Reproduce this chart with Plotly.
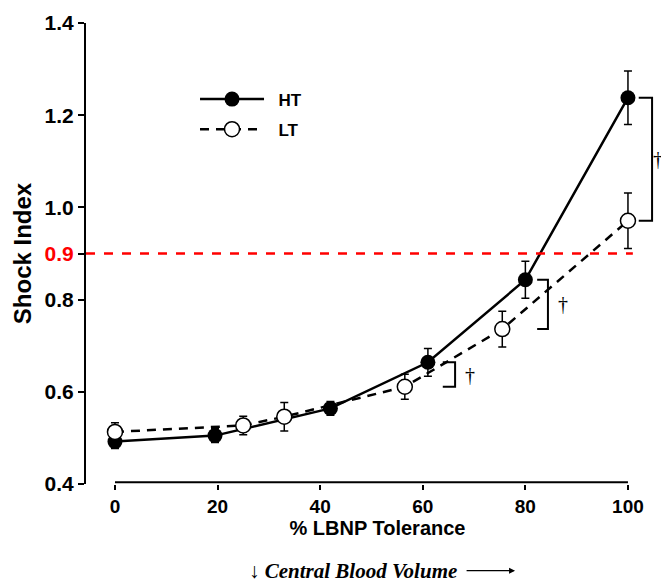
import plotly.graph_objects as go

# HT group (filled circles)
ht_x = [0, 19.5, 42, 61, 80, 100]
ht_y = [0.492, 0.505, 0.564, 0.664, 0.843, 1.238]
ht_err = [0.015, 0.015, 0.015, 0.03, 0.04, 0.058]

# LT group (open circles)
lt_x = [0, 25, 33, 56.5, 75.5, 100]
lt_y = [0.513, 0.527, 0.546, 0.611, 0.736, 0.971]
lt_err = [0.02, 0.02, 0.031, 0.027, 0.039, 0.06]

# significance brackets
br_left = [63.9, 82.3, 102.1]
br_right = [66.3, 84.4, 104.7]
br_top = [0.664, 0.843, 1.238]
br_bottom = [0.611, 0.736, 0.971]
dagger_x = [69.2, 87.3, 105.9]

y_ticks = [0.4, 0.6, 0.8, 0.9, 1.0, 1.2, 1.4]
y_labels = ["0.4", "0.6", "0.8", '<span style="color:#ff0000">0.9</span>', "1.0", "1.2", "1.4"]
x_ticks = [0, 20, 40, 60, 80, 100]
threshold = 0.9

fig = go.Figure()

fig.add_trace(go.Scatter(
    x=ht_x, y=ht_y, name="\u00a0\u00a0HT", mode="lines+markers", legendgroup="ht",
    line=dict(color="black", width=2.5),
    marker=dict(symbol="circle", size=15, color="black"),
    error_y=dict(type="data", array=ht_err, color="black", thickness=1.5, width=4),
    cliponaxis=False,
))
fig.add_trace(go.Scatter(
    x=lt_x, y=lt_y, name="\u00a0\u00a0LT", mode="lines+markers", legendgroup="lt",
    line=dict(color="black", width=2.5, dash="9px,7px"),
    marker=dict(symbol="circle", size=15, color="white", line=dict(color="black", width=1.5)),
    error_y=dict(type="data", array=lt_err, color="black", thickness=1.5, width=4),
    cliponaxis=False,
))

# red 0.9 reference line
fig.add_shape(type="line", xref="paper", yref="y", x0=0, x1=0.938, y0=threshold, y1=threshold,
              line=dict(color="#ff0000", width=2.5, dash="dash"))

# x axis line only spans 0..100
fig.add_shape(type="line", xref="x", yref="paper", x0=x_ticks[0], x1=x_ticks[-1], y0=0.004, y1=0.004,
              line=dict(color="black", width=2))

for l, r, t, b, dx in zip(br_left, br_right, br_top, br_bottom, dagger_x):
    fig.add_shape(type="path", xref="x", yref="y",
                  path=f"M {l},{t} L {r},{t} L {r},{b} L {l},{b}",
                  line=dict(color="black", width=2))
    fig.add_annotation(x=dx, y=(t + b) / 2, text="†", showarrow=False,
                       font=dict(family="Liberation Serif", size=20, color="black", weight="normal"))

# text with its arrow to the right
fig.add_annotation(xref="paper", yref="paper", x=0.736, y=-0.188,
                   text="↓ <b><i>Central Blood Volume</i></b>",
                   showarrow=True, ax=-162, ay=0, arrowhead=2, arrowsize=1, arrowwidth=1.2,
                   arrowcolor="black", startstandoff=8,
                   font=dict(family="Liberation Serif", size=21, color="black", weight="normal"))

# the page body adds an 8px margin, so the figure is 8px smaller and margins shifted
fig.update_layout(
    width=661, height=574,
    margin=dict(l=78, r=0, t=15, b=98, autoexpand=False),
    plot_bgcolor="white", paper_bgcolor="white",
    font=dict(family="Liberation Sans", size=20, color="black", weight="bold"),
    showlegend=True,
    legend=dict(x=0.187, y=0.873, xanchor="left", yanchor="top", itemwidth=64,
                tracegroupgap=5, bgcolor="rgba(0,0,0,0)",
                font=dict(family="Liberation Sans", size=17, weight="bold")),
    xaxis=dict(range=[-5.65, 108], tickvals=x_ticks, showline=False, showgrid=False,
               zeroline=False, ticks="outside", ticklen=5, tickwidth=2, tickcolor="black",
               automargin=False, tickfont=dict(size=19),
               title=dict(text="% LBNP Tolerance", font=dict(size=20, weight="bold"), standoff=0)),
    yaxis=dict(range=[0.4, 1.4], tickvals=y_ticks, ticktext=y_labels, showline=True,
               linewidth=2, linecolor="black", showgrid=False, zeroline=False,
               ticks="outside", ticklen=6, tickwidth=2, tickcolor="black",
               automargin=False, tickfont=dict(size=21),
               title=dict(text="Shock Index", font=dict(size=24, weight="bold"), standoff=6)),
)

fig.write_html("out.html")
